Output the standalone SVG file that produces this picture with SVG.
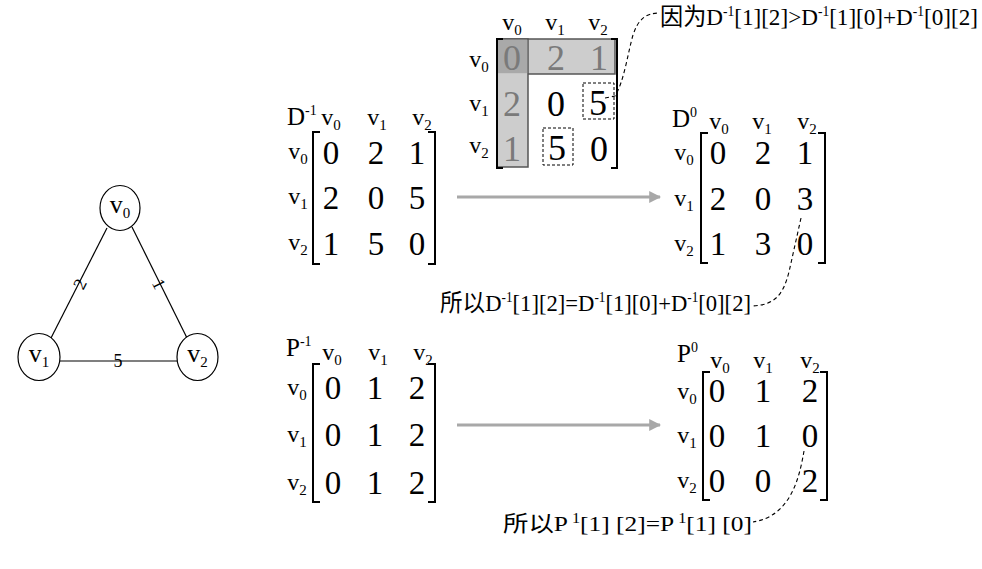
<svg xmlns="http://www.w3.org/2000/svg" width="982" height="569" viewBox="0 0 982 569">
<style>
text { font-family: "Liberation Serif", "Times New Roman", "DejaVu Serif", serif; fill: #000; }
.note { font-family: "Liberation Serif", "Times New Roman", "Noto Sans CJK SC", serif; font-size: 24px; }
.lab { font-size: 24px; text-anchor: middle; }
.nlab { font-size: 26px; text-anchor: middle; }
.sub { font-size: 15px; }
.dig { font-size: 33px; text-anchor: middle; }
.bdig { font-size: 36px; text-anchor: middle; }
.gdig { fill: #7a7a7a; }
.name { font-size: 25px; }
.sup { font-size: 14px; }
.br { fill: none; stroke: #000; stroke-width: 2; }
.edge { stroke: #000; stroke-width: 1.2; fill: none; }
.node { fill: #fff; stroke: #000; stroke-width: 1.2; }
.elab { font-size: 18px; text-anchor: middle; }
.arr { stroke: #a8a8a8; stroke-width: 3; fill: none; }
.dash { fill: none; stroke: #000; stroke-width: 1.1; stroke-dasharray: 4 3; }
.dbox { fill: none; stroke: #000; stroke-width: 1; stroke-dasharray: 3 2; }
</style>
<defs>
<marker id="ah" viewBox="0 0 10 10" refX="9" refY="5" markerWidth="4" markerHeight="4" orient="auto" markerUnits="strokeWidth">
<path d="M0,0 L10,5 L0,10 z" fill="#a8a8a8"/>
</marker>
</defs>
<rect width="982" height="569" fill="#fff"/>

<!-- graph connectors -->
<g id="graph-edges">
<line class="edge" x1="107" y1="228" x2="51" y2="338"/>
<line class="edge" x1="132" y1="227" x2="187" y2="338"/>
<line class="edge" x1="60" y1="361" x2="177" y2="361"/>
<text class="elab" transform="translate(80,284) rotate(-63)" y="6">2</text>
<text class="elab" transform="translate(159,284) rotate(63)" y="6">1</text>
<text class="elab" x="118" y="367">5</text>
</g>
<g id="node-v0"><ellipse class="node" cx="120" cy="208" rx="20" ry="22.5"/><text class="nlab" x="120" y="213">v<tspan class="sub" dy="5">0</tspan></text></g>
<g id="node-v1"><ellipse class="node" cx="39" cy="357" rx="21" ry="23.5"/><text class="nlab" x="39" y="362">v<tspan class="sub" dy="5">1</tspan></text></g>
<g id="node-v2"><ellipse class="node" cx="197.5" cy="357" rx="20.5" ry="23.5"/><text class="nlab" x="197.5" y="362">v<tspan class="sub" dy="5">2</tspan></text></g>

<!-- top highlighted matrix -->
<g id="matrix-top">
<rect x="497" y="39" width="118" height="35" fill="#cdcdcd" stroke="#555" stroke-width="1.5"/>
<rect x="497" y="39" width="31" height="128" fill="#cdcdcd" stroke="#555" stroke-width="1.5"/>
<rect x="497.8" y="39.8" width="29.4" height="33.4" fill="#a9a9a9"/>
<path class="br" d="M503,39 H497 V168 H503"/>
<path class="br" d="M611,39 H617 V168 H611"/>
<text class="lab" x="512" y="30">v<tspan class="sub" dy="5">0</tspan></text>
<text class="lab" x="555" y="30">v<tspan class="sub" dy="5">1</tspan></text>
<text class="lab" x="598" y="30">v<tspan class="sub" dy="5">2</tspan></text>
<text class="lab" x="479" y="67">v<tspan class="sub" dy="5">0</tspan></text>
<text class="lab" x="479" y="111">v<tspan class="sub" dy="5">1</tspan></text>
<text class="lab" x="479" y="153">v<tspan class="sub" dy="5">2</tspan></text>
<text class="bdig gdig" x="512" y="70">0</text>
<text class="bdig gdig" x="556" y="70">2</text>
<text class="bdig gdig" x="599" y="70">1</text>
<text class="bdig gdig" x="512" y="116">2</text>
<text class="bdig" x="556" y="116">0</text>
<text class="bdig" x="598" y="115">5</text>
<text class="bdig gdig" x="512" y="161">1</text>
<text class="bdig" x="557" y="160">5</text>
<text class="bdig" x="599" y="161">0</text>
<rect class="dbox" x="583" y="83" width="31" height="36"/>
<rect class="dbox" x="543" y="128" width="30" height="37"/>
</g>

<!-- D^-1 -->
<g id="matrix-D-1">
<text class="name" x="287" y="125">D<tspan class="sup" dy="-10">-1</tspan></text>
<text class="lab" x="331" y="125">v<tspan class="sub" dy="5">0</tspan></text>
<text class="lab" x="377" y="125">v<tspan class="sub" dy="5">1</tspan></text>
<text class="lab" x="422" y="125">v<tspan class="sub" dy="5">2</tspan></text>
<path class="br" d="M320,132 H313 V264 H320"/>
<path class="br" d="M428,132 H435 V264 H428"/>
<text class="lab" x="298" y="159">v<tspan class="sub" dy="5">0</tspan></text>
<text class="lab" x="298" y="204">v<tspan class="sub" dy="5">1</tspan></text>
<text class="lab" x="298" y="250">v<tspan class="sub" dy="5">2</tspan></text>
<text class="dig" x="331" y="164">0</text><text class="dig" x="376" y="164">2</text><text class="dig" x="417" y="164">1</text>
<text class="dig" x="331" y="209">2</text><text class="dig" x="376" y="209">0</text><text class="dig" x="417" y="209">5</text>
<text class="dig" x="331" y="255">1</text><text class="dig" x="376" y="255">5</text><text class="dig" x="417" y="255">0</text>
</g>

<!-- D^0 -->
<g id="matrix-D0">
<text class="name" x="672" y="127">D<tspan class="sup" dy="-10">0</tspan></text>
<text class="lab" x="719" y="129">v<tspan class="sub" dy="5">0</tspan></text>
<text class="lab" x="762" y="129">v<tspan class="sub" dy="5">1</tspan></text>
<text class="lab" x="807" y="129">v<tspan class="sub" dy="5">2</tspan></text>
<path class="br" d="M708,133 H701 V263 H708"/>
<path class="br" d="M818,133 H825 V263 H818"/>
<text class="lab" x="684" y="160">v<tspan class="sub" dy="5">0</tspan></text>
<text class="lab" x="684" y="206">v<tspan class="sub" dy="5">1</tspan></text>
<text class="lab" x="684" y="251">v<tspan class="sub" dy="5">2</tspan></text>
<text class="dig" x="718" y="164">0</text><text class="dig" x="763" y="164">2</text><text class="dig" x="805" y="164">1</text>
<text class="dig" x="718" y="210">2</text><text class="dig" x="763" y="210">0</text><text class="dig" x="805" y="210">3</text>
<text class="dig" x="718" y="255">1</text><text class="dig" x="763" y="255">3</text><text class="dig" x="805" y="255">0</text>
</g>

<!-- P^-1 -->
<g id="matrix-P-1">
<text class="name" x="286" y="356">P<tspan class="sup" dy="-10">-1</tspan></text>
<text class="lab" x="332" y="360">v<tspan class="sub" dy="5">0</tspan></text>
<text class="lab" x="378" y="360">v<tspan class="sub" dy="5">1</tspan></text>
<text class="lab" x="423" y="360">v<tspan class="sub" dy="5">2</tspan></text>
<path class="br" d="M320,364 H313 V502 H320"/>
<path class="br" d="M428,364 H435 V502 H428"/>
<text class="lab" x="297" y="395">v<tspan class="sub" dy="5">0</tspan></text>
<text class="lab" x="297" y="442">v<tspan class="sub" dy="5">1</tspan></text>
<text class="lab" x="297" y="490">v<tspan class="sub" dy="5">2</tspan></text>
<text class="dig" x="333" y="399">0</text><text class="dig" x="375" y="399">1</text><text class="dig" x="417" y="399">2</text>
<text class="dig" x="333" y="446">0</text><text class="dig" x="375" y="446">1</text><text class="dig" x="417" y="446">2</text>
<text class="dig" x="333" y="494">0</text><text class="dig" x="375" y="494">1</text><text class="dig" x="417" y="494">2</text>
</g>

<!-- P^0 -->
<g id="matrix-P0">
<text class="name" x="677" y="362">P<tspan class="sup" dy="-10">0</tspan></text>
<text class="lab" x="720" y="368">v<tspan class="sub" dy="5">0</tspan></text>
<text class="lab" x="763" y="368">v<tspan class="sub" dy="5">1</tspan></text>
<text class="lab" x="810" y="368">v<tspan class="sub" dy="5">2</tspan></text>
<path class="br" d="M710,372 H703 V500 H710"/>
<path class="br" d="M820,372 H827 V500 H820"/>
<text class="lab" x="687" y="399">v<tspan class="sub" dy="5">0</tspan></text>
<text class="lab" x="687" y="443">v<tspan class="sub" dy="5">1</tspan></text>
<text class="lab" x="687" y="488">v<tspan class="sub" dy="5">2</tspan></text>
<text class="dig" x="717" y="402">0</text><text class="dig" x="763" y="402">1</text><text class="dig" x="810" y="402">2</text>
<text class="dig" x="717" y="447">0</text><text class="dig" x="763" y="447">1</text><text class="dig" x="810" y="447">0</text>
<text class="dig" x="717" y="492">0</text><text class="dig" x="763" y="492">0</text><text class="dig" x="810" y="492">2</text>
</g>

<!-- annotations -->
<g id="note-top"><text class="note" x="660" y="25" textLength="318" lengthAdjust="spacingAndGlyphs">因为D<tspan class="sup" dy="-9">-1</tspan><tspan dy="9">[1][2]&gt;D</tspan><tspan class="sup" dy="-9">-1</tspan><tspan dy="9">[1][0]+D</tspan><tspan class="sup" dy="-9">-1</tspan><tspan dy="9">[0][2]</tspan></text></g>
<g id="note-mid"><text class="note" x="440" y="311" textLength="311" lengthAdjust="spacingAndGlyphs">所以D<tspan class="sup" dy="-9">-1</tspan><tspan dy="9">[1][2]=D</tspan><tspan class="sup" dy="-9">-1</tspan><tspan dy="9">[1][0]+D</tspan><tspan class="sup" dy="-9">-1</tspan><tspan dy="9">[0][2]</tspan></text></g>
<g id="note-bottom"><text class="note" x="503" y="531" style="font-size:22px" textLength="249" lengthAdjust="spacingAndGlyphs">所以P<tspan class="sup" dy="-8"> 1</tspan><tspan dy="8">[1] [2]=P</tspan><tspan class="sup" dy="-8"> 1</tspan><tspan dy="8">[1] [0]</tspan></text></g>

<!-- connectors -->
<g id="connectors">
<line class="arr" x1="457" y1="197" x2="660" y2="197" marker-end="url(#ah)"/>
<line class="arr" x1="457" y1="425" x2="660" y2="425" marker-end="url(#ah)"/>
<path class="dash" d="M605,98 L615,96 C624,82 628,52 633,35 C638,20 645,13 660,13"/>
<path class="dash" d="M801,218 L789,272 C783,295 775,305 752,306"/>
<path class="dash" d="M804,451 C799,480 790,516 753,522"/>
</g>
</svg>
